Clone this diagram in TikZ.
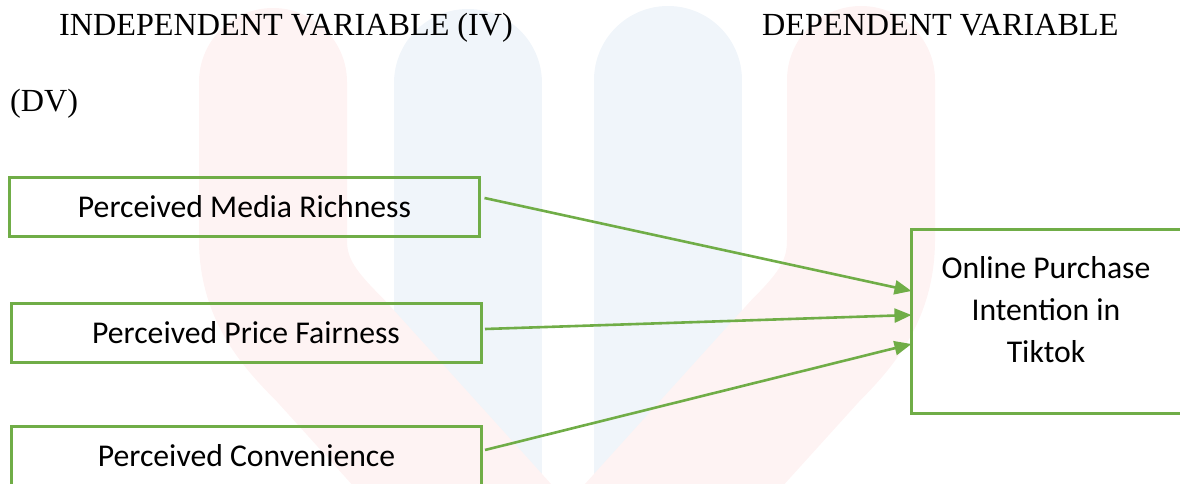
\documentclass[tikz,border=0pt]{standalone}
\usepackage{fontspec}
\setmainfont{Liberation Serif}
\newfontfamily\boxfont{Carlito}
\usetikzlibrary{arrows.meta,calc}
\definecolor{grn}{RGB}{112,173,71}
\definecolor{wmred}{RGB}{254,243,243}
\definecolor{wmblue}{RGB}{240,245,250}
\tikzset{
  ivbox/.style={draw=grn, line width=3pt, minimum width=470pt, minimum height=59pt, inner sep=0pt, font=\boxfont\fontsize{31.7}{38}\selectfont},
  dvbox/.style={draw=grn, line width=3pt, minimum width=270pt, minimum height=184pt, inner sep=0pt},
  dvlabel/.style={font=\boxfont\fontsize{31.7}{42}\selectfont, align=center, anchor=north, inner sep=0pt},
  link/.style={draw=grn, line width=2.6pt, -{Triangle[length=17pt,width=14pt]}},
  titletext/.style={font=\fontsize{32.2}{38}\selectfont, anchor=base west, inner sep=0pt},
  wm/.style={line width=148pt, line cap=round, line join=round},
}
\begin{document}
\begin{tikzpicture}[x=1pt,y=-1pt]
\useasboundingbox (0,0) rectangle (1180,484);
\clip (0,0) rectangle (1180,484);
% faint watermark
\draw[wm,wmblue] (468,83) -- (468,600);
\draw[wm,wmblue] (668,80) -- (668,600);
\draw[wm,wmred] (273,82) -- (273,240) .. controls (273,290) and (300,320) .. (330,350) -- (520,560);
\draw[wm,wmred] (861,80) -- (861,240) .. controls (861,290) and (836,320) .. (806,350) -- (616,560);
% titles
\node[titletext] (ivt) at (59,35.5) {INDEPENDENT VARIABLE (IV)};
\node[titletext] (dvt) at (762,35.5) {DEPENDENT VARIABLE};
\node[titletext] (dvp) at (10,112) {(DV)};
% boxes
\node[ivbox] (mr) at (244.5,206.5) {Perceived Media Richness};
\node[ivbox] (pf) at (246,332.5) {Perceived Price Fairness};
\node[ivbox] (pc) at (246.5,456) {Perceived Convenience};
\node[dvbox] (dv) at (1046,321) {};
\node[dvlabel] (dvl) at (1046,256.5) {Online Purchase\\Intention in\\Tiktok};
% links
\draw[link] ([xshift=3.5pt,yshift=8.5pt]mr.east) -- ([xshift=2pt,yshift=30pt]dv.west);
\draw[link] ([xshift=2.5pt,yshift=3.5pt]pf.east) -- ([xshift=2pt,yshift=6pt]dv.west);
\draw[link] ([xshift=2pt,yshift=6pt]pc.east) -- ([xshift=2pt,yshift=-23pt]dv.west);
\end{tikzpicture}
\end{document}
